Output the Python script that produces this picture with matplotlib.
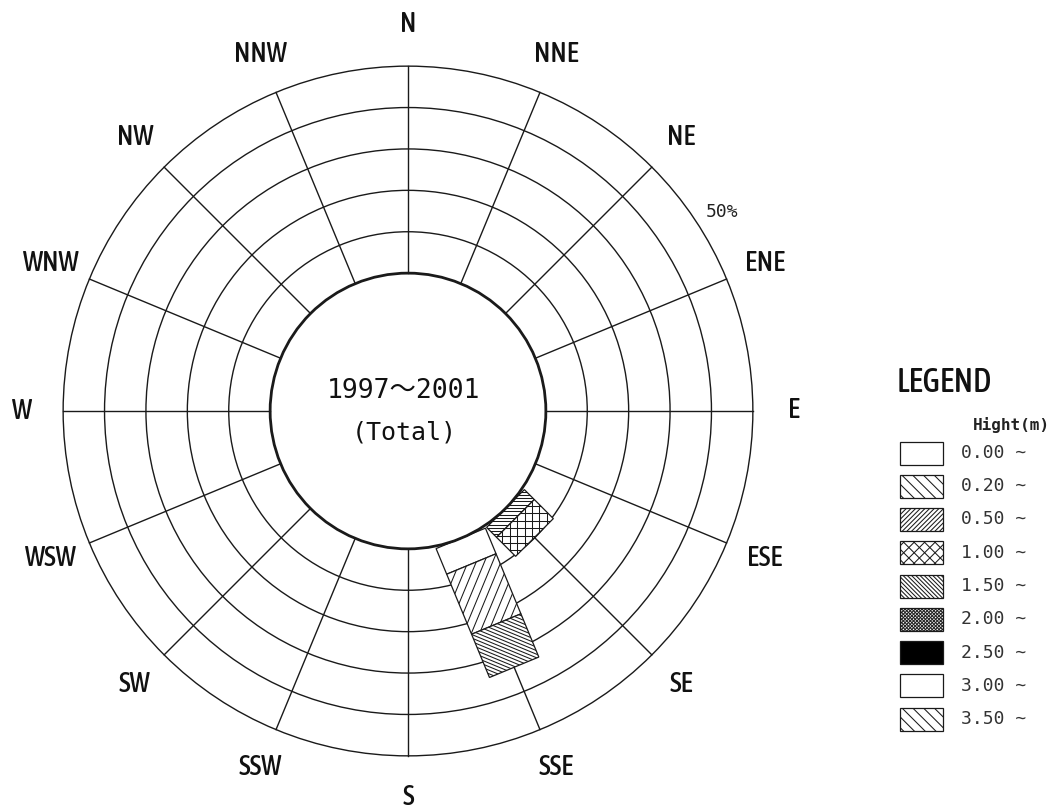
import numpy as np
import matplotlib
matplotlib.use("Agg")
import matplotlib.pyplot as plt
from matplotlib.patches import Circle, Polygon
from matplotlib.collections import LineCollection
from matplotlib import font_manager
from matplotlib.font_manager import FontProperties

# ---- data -------------------------------------------------------------
directions = ["N", "NNE", "NE", "ENE", "E", "ESE", "SE", "SSE",
              "S", "SSW", "SW", "WSW", "W", "WNW", "NW", "NNW"]
height_classes = ["0.00", "0.20", "0.50", "1.00", "1.50",
                  "2.00", "2.50", "3.00", "3.50"]

# occurrence frequency (%) per direction for each wave-height class
freq_h000 = [0, 0, 0, 0, 0, 0, 0.0, 6.7, 0, 0, 0, 0, 0, 0, 0, 0]
freq_h020 = [0, 0, 0, 0, 0, 0, 0.0, 15.7, 0, 0, 0, 0, 0, 0, 0, 0]
freq_h050 = [0, 0, 0, 0, 0, 0, 3.4, 11.3, 0, 0, 0, 0, 0, 0, 0, 0]
freq_h100 = [0, 0, 0, 0, 0, 0, 6.5, 0.0, 0, 0, 0, 0, 0, 0, 0, 0]
freq_h150 = [0] * 16
freq_h200 = [0] * 16
freq_h250 = [0] * 16
freq_h300 = [0] * 16
freq_h350 = [0] * 16
class_freqs = [freq_h000, freq_h020, freq_h050, freq_h100, freq_h150,
               freq_h200, freq_h250, freq_h300, freq_h350]

ring_pcts = [10, 20, 30, 40, 50]
period_text = "1997～2001"
subset_text = "(Total)"

# ---- styling ------------------------------------------------------------
# hatch patterns: (face colour, line angles in the legend frame, spacing px)
hatch_styles = [
    ("white", [], 0),
    ("white", [135], 7.6),
    ("white", [45], 3.3),
    ("white", [45, 135], 7.4),
    ("white", [135], 3.0),
    ("white", [45, 135], 2.4),
    ("black", [], 0),
    ("white", [], 0),
    ("white", [135], 7.6),
]


def pick_condensed():
    """Return a FontProperties for a narrow sans face, if one is installed."""
    cands = []
    for f in font_manager.fontManager.ttflist:
        nm = f.name.lower()
        st = str(f.stretch).lower()
        narrowish = ("narrow" in nm or "condensed" in nm or
                     st in ("condensed", "semi-condensed", "extra-condensed"))
        if narrowish and "mono" not in nm and "serif" not in nm:
            cands.append(f)
    if not cands:
        return None

    def score(f):
        w = f.weight if isinstance(f.weight, int) else 400
        return (f.style != "normal", abs(w - 500))
    cands.sort(key=score)
    return FontProperties(fname=cands[0].fname)


narrow_fp = pick_condensed()
mono = "DejaVu Sans Mono"


def label_font(size):
    if narrow_fp is not None:
        fp = narrow_fp.copy()
        fp.set_size(size)
        return fp
    return FontProperties(family=mono, size=size * 0.92, weight="bold")


W_PX, H_PX = 1053, 811
CX, CY = 408, 411          # rose centre (px from left / top)
PX = 4.14                  # pixels per percent
R0 = 33.3                  # radius of the calm circle (percent units)
BAR_W = 12.9               # bar width (percent units)
LINE = "#1a1a1a"

fig = plt.figure(figsize=(W_PX / 100, H_PX / 100), dpi=100)
ax = fig.add_axes([0, 0, 1, 1])
ax.set_xlim(-CX / PX, (W_PX - CX) / PX)
ax.set_ylim(-(H_PX - CY) / PX, CY / PX)
ax.axis("off")


def hatch_poly(axis, verts, face, angles, spacing, z):
    """Filled polygon with straight hatch lines clipped to it."""
    poly = Polygon(verts, closed=True, facecolor=face, edgecolor=LINE,
                   lw=0.9, zorder=z)
    axis.add_patch(poly)
    if not angles:
        return
    verts = np.asarray(verts, float)
    c = verts.mean(axis=0)
    rb = np.max(np.hypot(*(verts - c).T)) + spacing
    segs = []
    for a in angles:
        t = np.radians(a)
        d = np.array([np.cos(t), np.sin(t)])
        n = np.array([-np.sin(t), np.cos(t)])
        for o in np.arange(-rb, rb + spacing, spacing):
            p = c + n * o
            segs.append([p - d * rb, p + d * rb])
    lc = LineCollection(segs, colors=LINE, linewidths=0.75, zorder=z + 0.1)
    axis.add_collection(lc)
    lc.set_clip_path(poly)


# ---- grid: rings and spokes -------------------------------------------
for pct in ring_pcts:
    ax.add_patch(Circle((0, 0), R0 + pct, fill=False, ec=LINE, lw=1.0, zorder=1))
bearings = np.arange(len(directions)) * 22.5
r_out = R0 + ring_pcts[-1]
for b in bearings:
    u = np.array([np.sin(np.radians(b)), np.cos(np.radians(b))])
    ax.plot([u[0] * R0, u[0] * r_out], [u[1] * R0, u[1] * r_out],
            color=LINE, lw=1.0, zorder=1)

# ---- stacked bars ------------------------------------------------------
for i, b in enumerate(bearings):
    rad = np.radians(b)
    u = np.array([np.sin(rad), np.cos(rad)])
    p = np.array([np.cos(rad), -np.sin(rad)]) * BAR_W / 2
    r = R0
    for k, freqs in enumerate(class_freqs):
        v = freqs[i]
        if v <= 0:
            continue
        face, angles, sp = hatch_styles[k]
        scr = [180 - b - a for a in angles]
        verts = [u * r + p, u * (r + v) + p, u * (r + v) - p, u * r - p]
        hatch_poly(ax, verts, face, scr, sp / PX, 3)
        r += v

# calm circle
ax.add_patch(Circle((0, 0), R0, fill=False, ec=LINE, lw=2.0, zorder=5))

# ---- text --------------------------------------------------------------
r_lab = 93.3
for name, b in zip(directions, bearings):
    rad = np.radians(b)
    ax.text(r_lab * np.sin(rad), r_lab * np.cos(rad), name,
            fontproperties=label_font(20), ha="center", va="center",
            color="#111111")

rad = np.radians(57.6)
ax.text(89.9 * np.sin(rad), 89.9 * np.cos(rad), f"{ring_pcts[-1]}%",
        family=mono, fontsize=13, ha="center", va="center", color="#222222")

ax.text(-1, 4.8, period_text, family=["DejaVu Sans Mono", "Noto Sans CJK JP"],
        fontsize=19, ha="center", va="center", color="#111111")
ax.text(-1, -5.3, subset_text, family=mono, fontsize=18,
        ha="center", va="center", color="#111111")

# ---- legend (pixel coordinates) -----------------------------------------
lax = fig.add_axes([0, 0, 1, 1])
lax.set_xlim(0, W_PX)
lax.set_ylim(0, H_PX)
lax.axis("off")
lax.patch.set_alpha(0)

lax.text(897, H_PX - 383, "LEGEND", fontproperties=label_font(23.5),
         ha="left", va="center", color="#111111")
lax.text(1050, H_PX - 425, "Hight(m)", family=mono, fontsize=11.5,
         weight="bold", ha="right", va="center", color="#222222")
for k, lab in enumerate(height_classes):
    yc = H_PX - (453 + 33.25 * k)
    x0, x1, h = 900, 943, 23
    face, angles, sp = hatch_styles[k]
    verts = [(x0, yc - h / 2), (x1, yc - h / 2), (x1, yc + h / 2), (x0, yc + h / 2)]
    hatch_poly(lax, verts, face, angles, sp, 3)
    lax.text(961, yc, f"{lab} ~", family=mono, fontsize=13,
             ha="left", va="center", color="#333333")

fig.savefig("out.png", dpi=100, facecolor="white")
